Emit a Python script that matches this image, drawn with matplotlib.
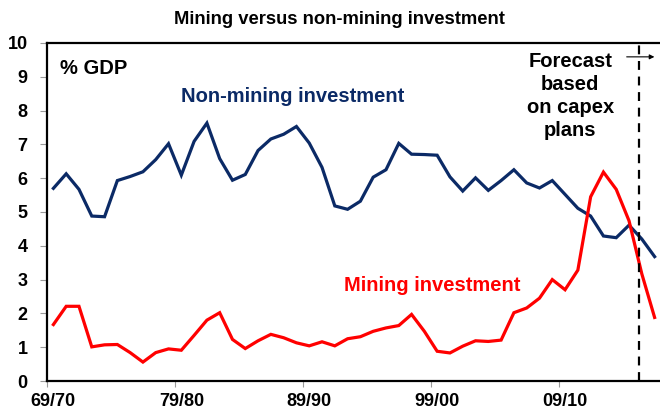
import numpy as np
import matplotlib
matplotlib.use('AGG')
import matplotlib.pyplot as plt
from matplotlib.ticker import FixedLocator, NullFormatter, FixedFormatter

plt.rcParams['font.family'] = ['Liberation Sans', 'DejaVu Sans']
plt.rcParams['font.weight'] = 'bold'

# financial years 69/70 .. 16/17, % of GDP
non_mining = [5.70, 6.13, 5.67, 4.88, 4.86, 5.93, 6.05, 6.19, 6.55, 7.02,
              6.09, 7.09, 7.63, 6.58, 5.94, 6.11, 6.82, 7.16, 7.30, 7.53,
              7.04, 6.32, 5.18, 5.08, 5.32, 6.03, 6.25, 7.03, 6.71, 6.70,
              6.68, 6.04, 5.62, 6.01, 5.64, 5.93, 6.25, 5.86, 5.71, 5.93,
              5.52, 5.11, 4.88, 4.29, 4.24, 4.61, 4.20, 3.68]
mining = [1.67, 2.21, 2.21, 1.01, 1.07, 1.08, 0.84, 0.56, 0.84, 0.95,
          0.91, 1.35, 1.80, 2.02, 1.23, 0.96, 1.19, 1.38, 1.28, 1.13,
          1.04, 1.16, 1.04, 1.25, 1.31, 1.47, 1.57, 1.64, 1.97, 1.47,
          0.88, 0.83, 1.03, 1.19, 1.17, 1.21, 2.02, 2.16, 2.45, 3.00,
          2.70, 3.28, 5.45, 6.18, 5.67, 4.74, 3.17, 1.88]
year_labels = ['69/70', '79/80', '89/90', '99/00', '09/10']
forecast_start = 45.8  # dashed line, in year index

x = np.arange(len(non_mining))
navy = '#0B2A66'
red = '#FF0000'

fig = plt.figure(figsize=(6.6, 4.12), dpi=100)
ax = fig.add_axes([47/660, 1-381/412, 614/660, 338/412])

ax.plot(x, non_mining, color=navy, lw=2.3, solid_joinstyle='miter')
ax.plot(x, mining, color=red, lw=2.3, solid_joinstyle='miter')
ax.axvline(forecast_start, color='black', lw=1.6, ls=(0, (4, 3)))

ax.set_xlim(-0.5, len(x) - 0.5)
ax.set_ylim(0, 10)
ax.set_yticks(range(0, 11))

# category axis: tick marks on boundaries, labels on categories
ax.xaxis.set_major_locator(FixedLocator(np.arange(-0.5, len(x), 10)))
ax.xaxis.set_major_formatter(NullFormatter())
ax.xaxis.set_minor_locator(FixedLocator(np.arange(0, len(x), 10)))
ax.xaxis.set_minor_formatter(FixedFormatter(year_labels))
ax.tick_params(axis='x', which='major', length=4, color='#999999', width=0.8)
ax.tick_params(axis='x', which='minor', length=0, pad=9, labelsize=13)
ax.tick_params(axis='y', length=5, color='#999999', width=0.8, pad=9, labelsize=13)

for s in ['left', 'bottom', 'top']:
    ax.spines[s].set_linewidth(1.6)
ax.spines['right'].set_visible(False)

ax.text(0.5, 9.26, '% GDP', fontsize=14.5, ha='left', va='center')
ax.text(18.7, 8.43, 'Non-mining investment', fontsize=14.5, color=navy,
        ha='center', va='center')
ax.text(29.65, 2.84, 'Mining investment', fontsize=14.5, color=red,
        ha='center', va='center')
ax.text(40.4, 8.42, 'Forecast\nbased\non capex\nplans', fontsize=14.5,
        ha='center', va='center', linespacing=1.27)
ax.annotate('', xy=(47.2, 9.59), xytext=(44.6, 9.59),
            arrowprops=dict(arrowstyle='-|>', color='black', lw=0.8,
                            mutation_scale=7), annotation_clip=False)

fig.text(339/660, 1-19/412, 'Mining versus non-mining investment',
         fontsize=13.2, ha='center', va='center')

fig.savefig('out.png', dpi=100)
